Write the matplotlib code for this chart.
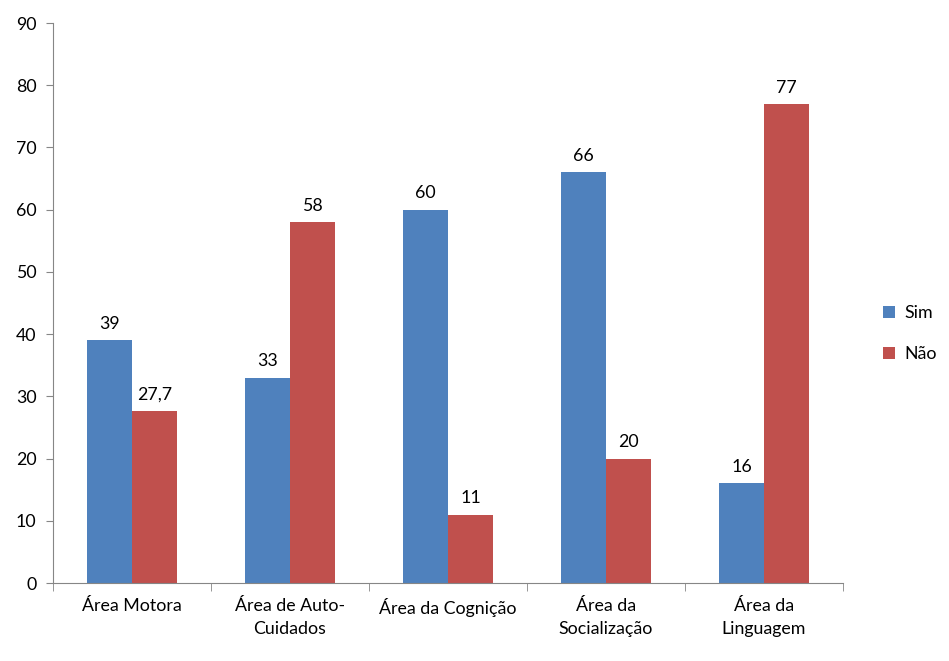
import matplotlib
matplotlib.use("Agg")
import matplotlib.pyplot as plt
import numpy as np

plt.rcParams['font.family'] = ['Lato', 'DejaVu Sans']

categorias = ["Área Motora", "Área de Auto-\nCuidados", "Área da Cognição",
              "Área da\nSocialização", "Área da\nLinguagem"]
sim = [39, 33, 60, 66, 16]
nao = [27.7, 58, 11, 20, 77]
rotulos_sim = ["39", "33", "60", "66", "16"]
rotulos_nao = ["27,7", "58", "11", "20", "77"]

azul = '#4f81bd'
vermelho = '#c0504d'
cinza = '#868686'
fs = 12.8

fig = plt.figure(figsize=(9.49, 6.61), dpi=100)
ax = fig.add_axes([53/949, 78/661, 790/949, 560/661])

x = np.arange(len(categorias))
w = 0.285
b1 = ax.bar(x - w/2, sim, w, color=azul, label='Sim')
b2 = ax.bar(x + w/2, nao, w, color=vermelho, label='Não')

for barras, rot in ((b1, rotulos_sim), (b2, rotulos_nao)):
    for b, t in zip(barras, rot):
        ax.annotate(t, (b.get_x() + b.get_width()/2, b.get_height()),
                    xytext=(0, 6), textcoords='offset points',
                    ha='center', va='bottom', fontsize=fs)

ax.set_xlim(-0.5, len(categorias) - 0.5)
ax.set_ylim(0, 90)
ax.set_yticks(range(0, 91, 10))
ax.set_xticks(x)
ax.set_xticklabels(categorias, fontsize=fs, linespacing=1.55)
ax.set_xticks(np.arange(-0.5, len(categorias), 1), minor=True)
ax.tick_params(axis='x', which='major', length=0, pad=11)
ax.tick_params(axis='x', which='minor', length=6, color=cinza, direction='out')
ax.tick_params(axis='y', length=5, color=cinza, labelsize=fs, pad=7)

for s in ('top', 'right'):
    ax.spines[s].set_visible(False)
for s in ('left', 'bottom'):
    ax.spines[s].set_color(cinza)

ax.legend(loc='center left', bbox_to_anchor=(1.03, 0.445), frameon=False,
          fontsize=fs, handlelength=0.7, handleheight=0.7,
          labelspacing=1.4, handletextpad=0.5)

fig.savefig('out.png', dpi=100)
